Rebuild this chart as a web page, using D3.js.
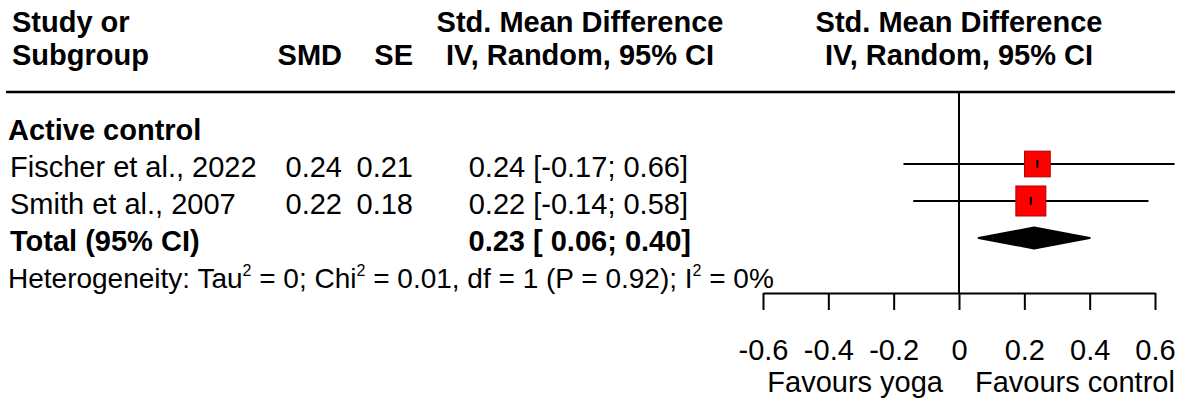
<!DOCTYPE html>
<html>
<head>
<meta charset="utf-8">
<script src="https://cdn.jsdelivr.net/npm/d3@7"></script>
<style>
  body { margin: 0; background: #fff; }
  svg { display: block; }
  text { font-family: "Liberation Sans", Arial, sans-serif; fill: #000; }
</style>
</head>
<body>
<svg id="chart" width="1181" height="408"></svg>
<script>
"use strict";

// study data
let studies = ["Fischer et al., 2022", "Smith et al., 2007"];
let smd = [0.24, 0.22];
let se = [0.21, 0.18];
let ciLow = [-0.17, -0.14];
let ciHigh = [0.66, 0.58];

// pooled estimate
let totalSMD = 0.23;
let totalCI = [0.06, 0.40];

let subgroup = "Active control";
// pieces of the heterogeneity line: [normal text, superscript]
let heterogeneity = [["Heterogeneity: Tau", "2"], [" = 0; Chi", "2"], [" = 0.01, df = 1 (P = 0.92); I", "2"], [" = 0%", ""]];

let xTicks = [-0.6, -0.4, -0.2, 0, 0.2, 0.4, 0.6];
let favours = ["Favours yoga", "Favours control"];

let svg = d3.select("#chart");

let x = d3.scaleLinear().domain([-0.6, 0.6]).range([763, 1155]);
// row index -> vertical centre (0 = subgroup label, last = total)
let yRow = d3.scaleLinear().domain([1, 3]).range([164, 238]);

let weights = se.map(function (s) { return 1 / (s * s); });
let boxSize = d3.scaleSqrt().domain([0, d3.max(weights)]).range([0, 30]);

let fmt2 = function (v) { return v.toFixed(2); };

// ---- header ----
let hdr = svg.append("g").attr("font-size", 29).attr("font-weight", "bold");
hdr.append("text").attr("x", 12).attr("y", 32).text("Study or");
hdr.append("text").attr("x", 12).attr("y", 65).text("Subgroup");
hdr.append("text").attr("x", 342).attr("y", 65).attr("text-anchor", "end").text("SMD");
hdr.append("text").attr("x", 413).attr("y", 65).attr("text-anchor", "end").text("SE");
hdr.append("text").attr("x", 580).attr("y", 32).attr("text-anchor", "middle").text("Std. Mean Difference");
hdr.append("text").attr("x", 580).attr("y", 65).attr("text-anchor", "middle").text("IV, Random, 95% CI");
hdr.append("text").attr("x", x(0)).attr("y", 32).attr("text-anchor", "middle").text("Std. Mean Difference");
hdr.append("text").attr("x", x(0)).attr("y", 65).attr("text-anchor", "middle").text("IV, Random, 95% CI");

svg.append("line")
    .attr("x1", 6).attr("x2", 1175)
    .attr("y1", 92).attr("y2", 92)
    .attr("stroke", "#000").attr("stroke-width", 2.5);

// ---- left table ----
let tbl = svg.append("g").attr("font-size", 29);

tbl.append("text").attr("x", 8).attr("y", yRow(0) + 13)
    .attr("font-weight", "bold").text(subgroup);

let rows = tbl.selectAll("g.row").data(studies).enter().append("g").attr("class", "row");
rows.append("text").attr("x", 10).attr("y", function (d, i) { return yRow(i + 1) + 13; })
    .text(function (d) { return d; });
rows.append("text").attr("x", 342).attr("y", function (d, i) { return yRow(i + 1) + 13; })
    .attr("text-anchor", "end").text(function (d, i) { return fmt2(smd[i]); });
rows.append("text").attr("x", 413).attr("y", function (d, i) { return yRow(i + 1) + 13; })
    .attr("text-anchor", "end").text(function (d, i) { return fmt2(se[i]); });
rows.append("text").attr("x", 688).attr("y", function (d, i) { return yRow(i + 1) + 13; })
    .attr("text-anchor", "end").attr("xml:space", "preserve")
    .text(function (d, i) { return fmt2(smd[i]) + " [" + fmt2(ciLow[i]) + "; " + fmt2(ciHigh[i]) + "]"; });

let totRow = studies.length + 1;
tbl.append("text").attr("x", 10).attr("y", yRow(totRow) + 13)
    .attr("font-weight", "bold").text("Total (95% CI)");
tbl.append("text").attr("x", 691).attr("y", yRow(totRow) + 13)
    .attr("font-weight", "bold").attr("text-anchor", "end").attr("xml:space", "preserve")
    .text(fmt2(totalSMD) + " [ " + fmt2(totalCI[0]) + "; " + fmt2(totalCI[1]) + "]");

let het = tbl.append("text").attr("x", 8).attr("y", yRow(totRow + 1) + 13)
    .attr("font-size", 28).attr("xml:space", "preserve");
let shift = 0;
heterogeneity.forEach(function (p) {
    het.append("tspan").attr("dy", shift).text(p[0]);
    shift = 0;
    if (p[1]) {
        het.append("tspan").attr("font-size", 16).attr("dy", -12).text(p[1]);
        shift = 12;
    }
});

// ---- forest plot ----
let plot = svg.append("g");

plot.append("line")
    .attr("x1", x(0)).attr("x2", x(0))
    .attr("y1", 92).attr("y2", 293)
    .attr("stroke", "#000").attr("stroke-width", 2);

let st = plot.selectAll("g.study").data(studies).enter().append("g").attr("class", "study");

st.append("line")
    .attr("x1", function (d, i) { return x(ciLow[i]); })
    .attr("x2", function (d, i) { return x(ciHigh[i]); })
    .attr("y1", function (d, i) { return yRow(i + 1); })
    .attr("y2", function (d, i) { return yRow(i + 1); })
    .attr("stroke", "#000").attr("stroke-width", 2);

st.append("rect")
    .attr("x", function (d, i) { return x(smd[i]) - boxSize(weights[i]) / 2; })
    .attr("y", function (d, i) { return yRow(i + 1) - boxSize(weights[i]) / 2; })
    .attr("width", function (d, i) { return boxSize(weights[i]); })
    .attr("height", function (d, i) { return boxSize(weights[i]); })
    .attr("fill", "#ff0000").attr("stroke", "#b00000").attr("stroke-width", 1);

st.append("line")
    .attr("x1", function (d, i) { return x(smd[i]); })
    .attr("x2", function (d, i) { return x(smd[i]); })
    .attr("y1", function (d, i) { return yRow(i + 1) - 4; })
    .attr("y2", function (d, i) { return yRow(i + 1) + 4; })
    .attr("stroke", "#000").attr("stroke-width", 2);

let yc = yRow(totRow);
plot.append("polygon")
    .attr("points", [
        [x(totalCI[0]), yc], [x(totalSMD), yc - 10.5],
        [x(totalCI[1]), yc], [x(totalSMD), yc + 10.5]
    ].map(function (p) { return p.join(","); }).join(" "))
    .attr("fill", "#000").attr("stroke", "#000").attr("stroke-width", 2)
    .attr("stroke-linejoin", "round");

// ---- axis ----
let axis = d3.axisBottom(x)
    .tickValues(xTicks)
    .tickSize(17)
    .tickSizeOuter(0)
    .tickPadding(0)
    .tickFormat(function (d) { return d === 0 ? "0" : d3.format(".1f")(d).replace("\u2212", "-"); });

let ax = svg.append("g").attr("transform", "translate(0,293)").call(axis);
ax.select(".domain").attr("stroke-width", 2);
ax.selectAll(".tick line").attr("stroke-width", 2);
ax.selectAll(".tick text")
    .attr("font-family", "\"Liberation Sans\", Arial, sans-serif")
    .attr("font-size", 29).attr("dy", null).attr("y", 67);

svg.append("text").attr("x", x(0) - 16).attr("y", 392)
    .attr("font-size", 29).attr("text-anchor", "end").text(favours[0]);
svg.append("text").attr("x", x(0) + 16).attr("y", 392)
    .attr("font-size", 29).attr("text-anchor", "start").text(favours[1]);
</script>
</body>
</html>
